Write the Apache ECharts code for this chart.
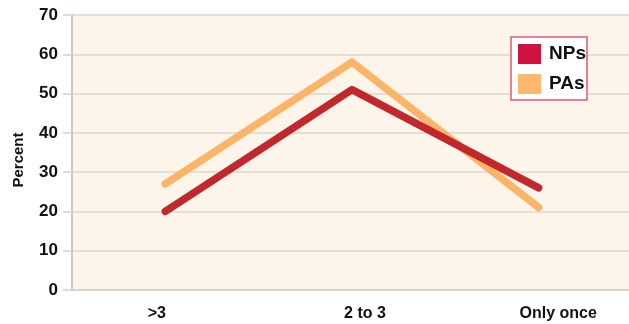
<!DOCTYPE html>
<html>
<head>
<meta charset="utf-8">
<script src="https://cdn.jsdelivr.net/npm/echarts@6/dist/echarts.min.js"></script>
<style>
  html, body { margin: 0; padding: 0; background: #ffffff; }
  #chart { width: 629px; height: 324px; }
</style>
</head>
<body>
<div id="chart"></div>
<script>
// How often: category labels along the x axis
const categories = ['>3', '2 to 3', 'Only once'];

// Percent of respondents in each group
const npValues = [20, 51, 26];
const paValues = [27, 58, 21];

// Percent axis ticks
const yMin = 0;
const yMax = 70;
const yStep = 10;

const FONT = "'Liberation Sans', Arial, Helvetica, sans-serif";

// per-label nudges so the category text sits where it is set in print
const labelRich = {
  c0: { padding: [0, 17, 0, 0] },
  c1: { padding: [0, 0, 0, 26] },
  c2: { padding: [0, 0, 0, 39] }
};

const chart = echarts.init(document.getElementById('chart'), null, { renderer: 'canvas' });

chart.setOption({
  animation: false,
  backgroundColor: '#ffffff',
  grid: {
    left: 72,
    right: -3,
    top: 15,
    bottom: 34,
    outerBoundsMode: 'none',
    containLabel: false,
    show: true,
    backgroundColor: '#fdf5ea',
    borderWidth: 0
  },
  legend: {
    orient: 'vertical',
    left: 511,
    top: 37,
    padding: [7, 1, 6, 7],
    itemGap: 10,
    itemWidth: 23,
    itemHeight: 20,
    backgroundColor: '#ffffff',
    borderColor: '#e0577a',
    borderWidth: 1.5,
    textStyle: {
      fontFamily: FONT,
      fontWeight: 'bold',
      fontSize: 19,
      color: '#111111',
      padding: [0, 0, 0, 3]
    },
    data: [
      { name: 'NPs', icon: 'rect', itemStyle: { color: '#d01243' } },
      { name: 'PAs', icon: 'rect', itemStyle: { color: '#fdb86c' } }
    ]
  },
  xAxis: {
    type: 'category',
    data: categories,
    boundaryGap: true,
    axisLine: { show: true, lineStyle: { color: '#d6d0c6', width: 1.5 } },
    axisTick: { show: false },
    splitLine: { show: false },
    axisLabel: {
      margin: 16,
      fontFamily: FONT,
      fontWeight: 'bold',
      fontSize: 16,
      color: '#111111',
      formatter: (v, i) => '{c' + i + '|' + v + '}',
      rich: labelRich
    }
  },
  yAxis: {
    type: 'value',
    min: yMin,
    max: yMax,
    interval: yStep,
    name: 'Percent',
    nameLocation: 'middle',
    nameGap: 46,
    nameTextStyle: {
      fontFamily: FONT,
      fontWeight: 'bold',
      fontSize: 15,
      color: '#111111',
      padding: [0, 15, 0, 0]
    },
    axisLine: { show: true, lineStyle: { color: '#c8c8c8', width: 2 } },
    axisTick: { show: true, length: 9, lineStyle: { color: '#d6d0c6', width: 1.5 } },
    splitLine: { show: true, lineStyle: { color: '#dcd6cc', width: 1.5 } },
    axisLabel: {
      margin: 14,
      fontFamily: FONT,
      fontWeight: 'bold',
      fontSize: 17,
      color: '#111111'
    }
  },
  series: [
    {
      name: 'PAs',
      type: 'line',
      data: paValues,
      symbol: 'none',
      lineStyle: { color: '#fbb468', width: 7.5, cap: 'round', join: 'round' },
      itemStyle: { color: '#fbb468' },
      z: 2
    },
    {
      name: 'NPs',
      type: 'line',
      data: npValues,
      symbol: 'none',
      lineStyle: { color: '#c1272d', width: 7.5, cap: 'round', join: 'round' },
      itemStyle: { color: '#c1272d' },
      z: 3
    }
  ]
});
</script>
</body>
</html>
